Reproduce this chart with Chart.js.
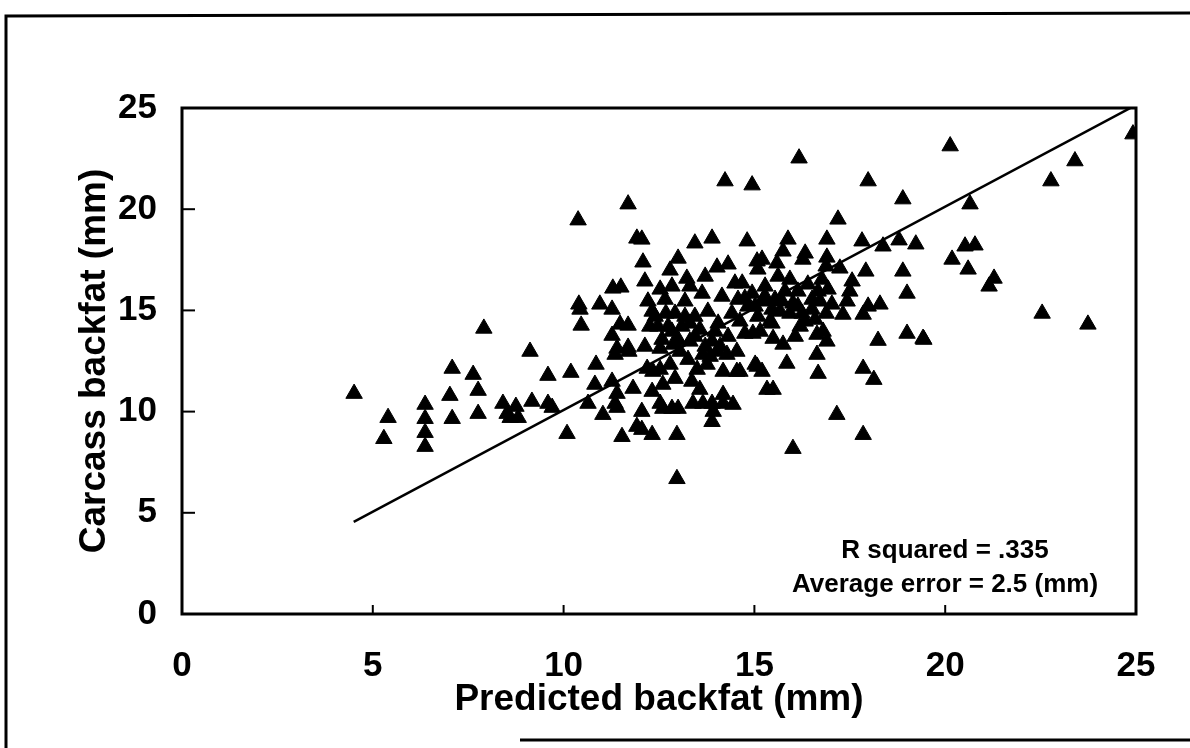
<!DOCTYPE html>
<html>
<head>
<meta charset="utf-8">
<script src="https://cdn.jsdelivr.net/npm/chart.js@4.4.0/dist/chart.umd.min.js"></script>
<style>
html,body{margin:0;padding:0;background:#fff;}
#wrap{width:1190px;height:748px;position:relative;}
</style>
</head>
<body>
<div id="wrap"><canvas id="c"></canvas></div>
<script>
// Predicted backfat (mm) and carcass backfat (mm) for each animal
const predicted = [
 4.51,5.40,5.29,6.37,6.37,6.37,6.37,7.08,7.02,7.08,7.63,7.76,7.76,7.91,8.41,8.52,8.75,8.81,8.60,9.17,9.59,9.59,9.70,9.12,10.09,10.19,
 10.38,10.40,10.43,10.46,10.64,10.95,11.27,11.29,11.50,11.48,11.69,11.27,11.40,11.69,10.85,11.35,11.71,11.27,10.82,11.40,11.35,11.40,11.03,11.82,12.05,12.32,11.92,12.05,12.32,11.53,12.97,12.97,
 11.69,11.92,12.05,12.08,12.19,12.34,12.53,12.53,12.87,12.79,12.92,12.60,12.53,12.60,12.84,13.00,12.53,12.79,13.00,13.23,13.44,13.89,14.23,14.94,14.81,14.02,14.31,14.68,15.07,
 13.50,13.76,13.65,14.02,14.28,14.54,14.18,14.54,15.02,13.39,13.65,13.89,14.18,14.18,14.44,13.92,13.89,
 16.17,15.88,16.90,17.82,18.37,18.79,19.23,17.98,18.89,17.19,16.33,16.27,15.75,15.59,16.90,16.88,17.24,18.89,17.92,17.56,17.50,19.00,15.20,15.09,17.03,17.43,17.98,18.29,17.32,17.85,19.00,19.42,18.24,
 14.75,14.96,15.49,15.75,16.64,16.80,16.90,16.64,15.85,15.07,15.20,14.62,16.67,17.85,18.13,15.33,15.49,17.16,17.85,16.01,
 20.13,23.40,22.77,24.92,20.65,20.52,20.78,20.18,20.60,21.28,21.15,22.54,23.74,19.44,
 12.21,12.40,12.66,12.74,12.58,12.92,13.10,13.18,13.31,13.44,13.57,13.63,13.78,13.89,14.05,14.15,14.31,14.41,14.57,14.62,14.83,14.94,15.09,15.20,15.28,15.41,15.54,15.67,15.80,15.93,16.01,16.14,16.25,16.40,16.51,16.67,16.77,16.93,16.20,16.59,15.62,14.49,13.71,13.31,12.84,12.26,12.13,12.13,
 12.32,12.47,12.68,12.84,13.00,13.18,13.31,13.05,13.26,13.44,13.71,13.84,13.97,14.10,13.36,13.57,14.75,15.02,15.28,15.46,15.72,15.93,16.14,16.33,16.51,16.72,16.88,15.15,15.46,16.07
];
const carcass = [
 10.89,9.70,8.66,10.35,9.65,8.96,8.27,12.13,10.79,9.65,11.83,11.04,9.90,14.11,10.40,9.90,10.25,9.70,9.70,10.50,11.78,10.40,10.20,12.97,8.91,11.93,
 19.46,15.30,15.05,14.26,10.40,15.30,15.05,16.09,16.14,14.31,14.26,13.76,13.12,13.17,12.33,12.82,12.97,11.49,11.34,10.89,10.40,10.20,9.85,11.14,10.00,10.99,9.26,9.11,8.86,8.76,8.86,6.68,
 20.25,18.56,18.51,17.38,12.13,11.98,12.08,13.12,13.32,12.33,11.63,11.34,10.40,10.15,10.15,10.15,16.04,16.98,17.57,16.58,18.32,18.56,21.39,21.19,18.42,17.13,17.28,16.34,17.43,
 12.08,12.33,12.82,12.97,12.82,12.97,11.98,11.98,12.33,10.40,10.40,10.40,10.84,10.40,10.35,10.00,9.50,
 22.52,18.51,18.51,18.42,18.17,18.47,18.27,21.39,20.50,19.50,17.82,17.52,17.92,17.33,17.62,17.18,17.08,16.93,16.93,16.44,15.94,15.84,17.52,17.03,15.30,15.45,15.20,15.30,14.80,14.80,13.86,13.61,13.51,
 13.86,13.86,13.61,13.32,13.81,13.96,13.47,12.82,12.38,12.23,11.98,11.98,11.88,12.13,11.58,11.09,11.09,9.85,8.86,8.17,
 23.12,22.38,21.39,23.71,20.25,18.17,18.22,17.52,17.03,16.58,16.19,14.85,14.31,13.56,
 15.45,14.70,15.54,14.21,13.56,14.85,14.21,15.45,13.47,14.70,14.06,15.84,14.95,13.47,14.36,15.69,13.71,14.85,15.54,14.46,15.20,15.84,14.70,15.45,16.19,14.46,15.54,14.95,15.94,16.53,15.35,15.94,14.85,16.29,15.54,15.94,16.53,16.04,14.21,14.55,16.68,16.34,16.68,16.19,16.19,14.21,13.22,16.44,
 14.95,14.21,14.85,13.96,13.56,14.70,14.36,12.97,12.57,13.71,13.22,12.72,13.96,13.22,11.49,11.09,15.59,15.20,15.69,15.05,15.45,14.85,15.20,14.46,15.05,15.45,14.85,13.96,14.36,13.71
];
// Fitted line end points
const fitX = [4.5, 25];
const fitY = [4.55, 25.15];
const axisTicks = [0, 5, 10, 15, 20, 25];
const xTitle = 'Predicted backfat (mm)';
const yTitle = 'Carcass backfat (mm)';
const notes = ['R squared = .335', 'Average error = 2.5 (mm)'];

const FONT = 'Liberation Sans, Arial, sans-serif';
const points = predicted.map((x, i) => ({x: x, y: carcass[i]}));
const fit = fitX.map((x, i) => ({x: x, y: fitY[i]}));

const deco = {
  id: 'deco',
  afterDraw(chart) {
    const ctx = chart.ctx;
    const a = chart.chartArea;
    const xs = chart.scales.x, ys = chart.scales.y;
    ctx.save();
    ctx.strokeStyle = '#000';
    ctx.lineWidth = 3;
    ctx.strokeRect(a.left, a.top, a.right - a.left, a.bottom - a.top);
    ctx.lineWidth = 2;
    axisTicks.slice(1, -1).forEach(v => {
      const px = xs.getPixelForValue(v);
      ctx.beginPath(); ctx.moveTo(px, a.bottom); ctx.lineTo(px, a.bottom - 9); ctx.stroke();
      const py = ys.getPixelForValue(v);
      ctx.beginPath(); ctx.moveTo(a.left, py); ctx.lineTo(a.left + 13, py); ctx.stroke();
    });
    ctx.lineWidth = 3;
    ctx.beginPath(); ctx.moveTo(6, 748); ctx.lineTo(6, 16); ctx.lineTo(1190, 13); ctx.stroke();
    ctx.beginPath(); ctx.moveTo(520, 740); ctx.lineTo(1190, 740); ctx.stroke();
    ctx.fillStyle = '#000';
    ctx.font = 'bold 26px ' + FONT;
    ctx.textAlign = 'center';
    ctx.textBaseline = 'middle';
    ctx.fillText(notes[0], 945, 551);
    ctx.fillText(notes[1], 945, 585);
    ctx.restore();
  }
};

new Chart(document.getElementById('c'), {
  type: 'scatter',
  data: {
    datasets: [
      {
        label: 'Animals',
        data: points,
        pointStyle: 'triangle',
        radius: 9.5,
        backgroundColor: '#000',
        borderColor: '#000',
        borderWidth: 1
      },
      {
        type: 'line',
        label: 'Fit',
        data: fit,
        borderColor: '#000',
        borderWidth: 2.5,
        pointRadius: 0,
        fill: false
      }
    ]
  },
  options: {
    responsive: true,
    maintainAspectRatio: false,
    animation: false,
    devicePixelRatio: 1,
    layout: {padding: {left: 73, right: 54, top: 108, bottom: 26}},
    plugins: {legend: {display: false}, tooltip: {enabled: false}},
    scales: {
      x: {
        type: 'linear', min: 0, max: 25,
        afterBuildTicks: s => { s.ticks = axisTicks.map(v => ({value: v})); },
        afterFit: s => { s.height = 108; },
        grid: {display: false}, border: {display: false},
        ticks: {color: '#000', padding: 23, font: {family: FONT, size: 35, weight: 'bold'}},
        title: {display: true, text: xTitle, color: '#000', padding: 0, font: {family: FONT, size: 37, weight: 'bold'}}
      },
      y: {
        type: 'linear', min: 0, max: 25,
        afterBuildTicks: s => { s.ticks = axisTicks.map(v => ({value: v})); },
        afterFit: s => { s.width = 109; },
        grid: {display: false}, border: {display: false},
        ticks: {color: '#000', padding: 17, font: {family: FONT, size: 35, weight: 'bold'}},
        title: {display: true, text: yTitle, color: '#000', padding: 0, font: {family: FONT, size: 37, weight: 'bold'}}
      }
    }
  },
  plugins: [deco]
});
</script>
</body>
</html>
